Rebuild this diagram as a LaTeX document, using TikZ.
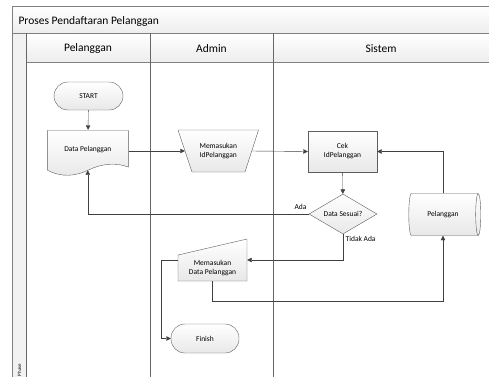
\documentclass[tikz,border=0pt]{standalone}
\usepackage{fontspec}
\setmainfont{Carlito}
\usetikzlibrary{shapes.geometric,arrows.meta}
\definecolor{edge}{HTML}{404040}
\definecolor{lane}{HTML}{808080}
\begin{document}
\begin{tikzpicture}[x=10pt,y=-10pt,
	box/.style={draw=edge!85, top color=white, bottom color=black!9, font=\fontsize{7.5}{9}\selectfont, align=center, inner sep=1pt},
	plain/.style={draw=none, font=\fontsize{7.5}{9}\selectfont, align=center, inner sep=1pt},
	terminal/.style={box, rectangle, rounded corners=14pt, minimum height=28pt},
	flow/.style={draw=edge, -{Triangle[length=4.5pt,width=4.5pt]}},
	head/.style={font=\fontsize{11.5}{13}\selectfont}]
		\useasboundingbox (0,0) rectangle (48.9,37.6);
		\clip (0,0) rectangle (48.9,37.6);

		% pool, phase strip and lanes
		\draw[lane, top color=white, bottom color=black!7] (1.25,0.6) rectangle (50,3.3);
		\node[head, anchor=west] (pool) at (1.5,2.1) {Proses Pendaftaran Pelanggan};
		\draw[lane, fill=black!5] (1.25,3.3) rectangle (2.6,40);
		\draw[lane, top color=white, bottom color=black!7] (2.6,3.3) rectangle (50,6.2);
		\foreach \x in {2.6,15.0,27.3} \draw[black!60] (\x,3.3) -- (\x,40);
		\node[head] (hpel) at (8.8,4.85) {Pelanggan};
		\node[head] (hadm) at (21.15,4.85) {Admin};
		\node[head] (hsis) at (38.1,4.85) {Sistem};
		\node[rotate=90, font=\fontsize{5}{6}\selectfont, inner sep=0pt] (phase) at (1.95,37.0) {Phase};

		% shapes
		\node[terminal, minimum width=69pt] (start) at (8.85,9.6) {START};

		\draw[box] (4.73,13.05) -- (12.83,13.05) -- (12.83,16.7) .. controls (11.5,16.2) and (10.1,16.4) .. (8.85,17.0) .. controls (7.6,17.6) and (6.2,17.8) .. (4.73,17.0) -- cycle;
		\node[plain, minimum width=81pt, minimum height=42pt] (doc) at (8.78,15.1) {\raisebox{5pt}{Data Pelanggan}};

		\draw[box] (17.8,13.0) -- (25.85,13.0) -- (24.5,17.2) -- (19.2,17.2) -- cycle;
		\node[plain, minimum width=66.5pt, minimum height=42pt] (masukid) at (21.83,15.1) {Memasukan\\IdPelanggan};

		\node[box, minimum width=69pt, minimum height=41pt] (cek) at (34.25,15.15) {Cek\\IdPelanggan};
		\node[box, diamond, aspect=1.7, inner sep=0pt, minimum width=68pt, minimum height=40pt] (sesuai) at (34.3,21.4) {Data Sesuai?};
		\node[box, cylinder, shape aspect=0.6, minimum width=42pt, minimum height=72pt] (dbpel) at (44.3,21.45) {Pelanggan};

		\draw[box] (17.8,25.5) -- (24.7,23.9) -- (24.7,28.1) -- (17.8,28.1) -- cycle;
		\node[plain, minimum width=69pt, minimum height=26pt] (masukdata) at (21.25,26.8) {Memasukan\\Data Pelanggan};

		\node[terminal, minimum width=68pt, minimum height=29pt] (finish) at (20.5,33.85) {Finish};

		% connectors
		\draw[flow] (start) -- (doc);
		\draw[flow] (doc.east) -- (masukid.west);
		\draw[flow] (masukid.east) -- (cek.west);
		\draw[flow] (cek) -- (sesuai);
		\draw[flow] (sesuai.west) -| ([yshift=2pt]doc.south);
		\draw[flow] (sesuai.south) |- ([yshift=8pt]masukdata.east);
		\draw[flow] (masukdata.south) -- ++(0,2.0) -| (dbpel.south);
		\draw[flow] (dbpel.north) |- (cek.east);
		\draw[flow] ([yshift=8pt]masukdata.west) -- ++(-1.7,0) |- (finish.west);

		\node[plain] (ada) at (30.05,20.7) {Ada};
		\node[plain, anchor=west] (tidak) at (34.45,23.9) {Tidak Ada};
	\end{tikzpicture}
\end{document}
